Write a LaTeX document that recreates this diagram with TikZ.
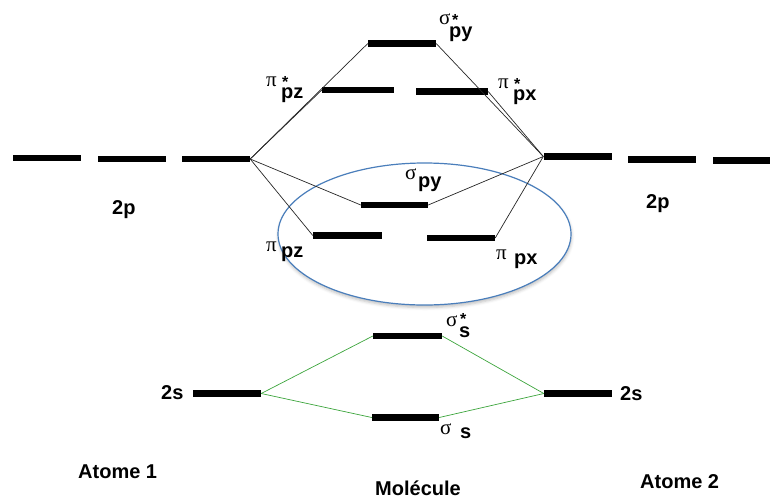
\documentclass[tikz,border=0pt]{standalone}
\usepackage{fontspec}
\setmainfont{Liberation Sans}
\newfontfamily\grkfont{Liberation Serif}
\usetikzlibrary{shadows.blur}
\definecolor{ringblue}{RGB}{74,126,187}
\definecolor{slinegreen}{RGB}{60,165,60}

% orbital label: greek letter, raised star, lowered subscript (offsets in pt)
\newcommand{\grksize}{\fontsize{21}{21}\selectfont\mdseries\grkfont}
\newcommand{\starsize}{\fontsize{16}{16}\selectfont\bfseries}
\newcommand{\orbs}[6]{\makebox[0pt][l]{\grksize #1}%
  \makebox[0pt][l]{\kern#2pt\raisebox{#3pt}{\starsize *}}%
  \kern#4pt\raisebox{#5pt}{#6}}
\newcommand{\orbn}[4]{\makebox[0pt][l]{\grksize #1}%
  \kern#2pt\raisebox{#3pt}{#4}}

\begin{document}
\begin{tikzpicture}[x=1pt,y=-1pt,
  level/.style={fill=black, inner sep=0pt, minimum height=6.5pt, minimum width=68pt},
  link/.style={draw=black!85, line width=0.7pt},
  slink/.style={draw=slinegreen, line width=0.7pt},
  lbl/.style={inner sep=0pt, anchor=base west, font=\fontsize{20}{20}\selectfont\bfseries},
  title/.style={inner sep=0pt, anchor=base west, font=\fontsize{20}{20}\selectfont\bfseries}]

\useasboundingbox (0,0) rectangle (770,499);

% grouping ring around the bonding p levels
\draw[ringblue, line width=1.2pt, fill=white,
      blur shadow={shadow xshift=0.5pt, shadow yshift=-2.5pt, shadow opacity=25, shadow blur radius=3pt}]
  (424.5,234) ellipse [x radius=146.5pt, y radius=71pt];

% 2p levels of atom 1
\node[level] (l2pa) at (47,158) {};
\node[level] (l2pb) at (132,159) {};
\node[level] (l2pc) at (216,159) {};
% 2p levels of atom 2
\node[level] (r2pa) at (577.5,156.5) {};
\node[level] (r2pb) at (662,159.5) {};
\node[level, minimum width=69pt] (r2pc) at (747.5,160.5) {};

% molecular levels from the 2p orbitals
\node[level] (sigpys) at (402,43.5) {};
\node[level, minimum width=72pt] (pipzs) at (358,90) {};
\node[level, minimum width=72pt] (pipxs) at (452,91.5) {};
\node[level, minimum width=67pt] (sigpy) at (394.5,205) {};
\node[level, minimum width=69pt] (pipz) at (347.5,235.5) {};
\node[level] (pipx) at (461,238) {};

% 2s levels and their molecular levels
\node[level] (l2s) at (227,393.5) {};
\node[level] (r2s) at (578,393.5) {};
\node[level, minimum width=69pt] (sigss) at (407.5,336) {};
\node[level, minimum width=67pt] (sigs) at (405.5,417.5) {};

% correlation lines, p block
\draw[link] (l2pc.east) -- (sigpys.west);
\draw[link] (l2pc.east) -- (pipzs.west);
\draw[link] (l2pc.east) -- (sigpy.west);
\draw[link] (l2pc.east) -- (pipz.west);
\draw[link] (r2pa.west) -- (sigpys.east);
\draw[link] (r2pa.west) -- (pipxs.east);
\draw[link] (r2pa.west) -- (sigpy.east);
\draw[link] (r2pa.west) -- (pipx.east);

% correlation lines, s block
\draw[slink] (l2s.east) -- (sigss.west);
\draw[slink] (l2s.east) -- (sigs.west);
\draw[slink] (r2s.west) -- (sigss.east);
\draw[slink] (r2s.west) -- (sigs.east);

% level labels
\node[lbl] (t1) at (439,24)  {\orbs{σ}{13}{-1}{10}{-13}{py}};
\node[lbl] (t2) at (266,86)  {\orbs{π}{16}{-1}{15}{-12}{pz}};
\node[lbl] (t3) at (498,88)  {\orbs{π}{16}{-1}{15}{-12}{px}};
\node[lbl] (t4) at (405,179) {\orbn{σ}{13}{-8}{py}};
\node[lbl] (t5) at (266,251) {\orbn{π}{15}{-6}{pz}};
\node[lbl] (t6) at (496,259) {\orbn{π}{18}{-5}{px}};
\node[lbl] (t7) at (446,326) {\orbs{σ}{14}{2}{13}{-11}{s}};
\node[lbl] (t8) at (440,434) {\orbn{σ}{20}{-4}{s}};

\node[lbl] (l2pt) at (112,214) {2p};
\node[lbl] (r2pt) at (646,208) {2p};
\node[lbl] (l2st) at (161,399) {2s};
\node[lbl] (r2st) at (620,400) {2s};

% column titles
\node[title] (at1) at (78,478) {Atome 1};
\node[title] (mol) at (375,495) {Molécule};
\node[title] (at2) at (640,488) {Atome 2};
\end{tikzpicture}
\end{document}
